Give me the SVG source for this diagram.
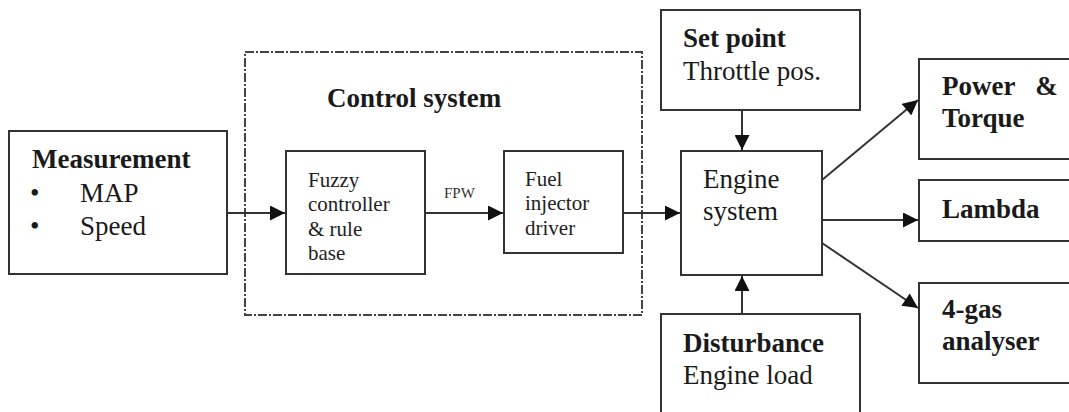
<svg xmlns="http://www.w3.org/2000/svg" width="1069" height="412" viewBox="0 0 1069 412">
<style>
.box{fill:#fff;stroke:#333;stroke-width:2}
.c{stroke:#333;stroke-width:2;fill:none}
</style>
<defs>
<marker id="ah" viewBox="0 0 10 10" refX="10" refY="5" markerWidth="16" markerHeight="15" markerUnits="userSpaceOnUse" orient="auto">
<path d="M0,0 L10,5 L0,10 z" fill="#111"/>
</marker>
</defs>
<rect width="1069" height="412" fill="#fff"/>
<g id="control-system">
<rect x="245" y="52" width="397" height="263" fill="none" stroke="#444" stroke-width="2" stroke-dasharray="9 2 2 2"/>
<text x="327" y="107" font-family="Liberation Serif" font-size="27" font-weight="bold" fill="#1a1a1a">Control system</text>
</g>
<g id="connectors">
<line class="c" x1="227" y1="213" x2="285" y2="213" marker-end="url(#ah)"/>
<line class="c" x1="425" y1="213" x2="503" y2="213" marker-end="url(#ah)"/>
<line class="c" x1="623" y1="213" x2="680" y2="213" marker-end="url(#ah)"/>
<line class="c" x1="742" y1="110" x2="742" y2="150" marker-end="url(#ah)"/>
<line class="c" x1="742" y1="314" x2="742" y2="276" marker-end="url(#ah)"/>
<line class="c" x1="822" y1="180" x2="918" y2="100" marker-end="url(#ah)"/>
<line class="c" x1="822" y1="220" x2="918" y2="220" marker-end="url(#ah)"/>
<line class="c" x1="822" y1="243" x2="918" y2="308" marker-end="url(#ah)"/>
<text x="444" y="198" font-family="Liberation Serif" font-size="15" fill="#333">FPW</text>
</g>
<g id="measurement" fill="#1a1a1a" font-size="27" font-family="Liberation Serif">
<rect class="box" x="9" y="131" width="218" height="143"/>
<text x="32" y="168" font-weight="bold">Measurement</text>
<text x="30" y="202">•</text>
<text x="80" y="202">MAP</text>
<text x="30" y="235">•</text>
<text x="80" y="235">Speed</text>
</g>
<g id="fuzzy" fill="#222" font-size="21" font-family="Liberation Serif">
<rect class="box" x="286" y="151" width="139" height="123"/>
<text x="308" y="187">Fuzzy</text>
<text x="308" y="211">controller</text>
<text x="308" y="236">&amp; rule</text>
<text x="308" y="260">base</text>
</g>
<g id="fuel-injector" fill="#222" font-size="21" font-family="Liberation Serif">
<rect class="box" x="504" y="151" width="119" height="102"/>
<text x="525" y="186">Fuel</text>
<text x="525" y="210">injector</text>
<text x="525" y="235">driver</text>
</g>
<g id="set-point" fill="#1a1a1a" font-size="27" font-family="Liberation Serif">
<rect class="box" x="661" y="10" width="199" height="100"/>
<text x="683" y="47" font-weight="bold">Set point</text>
<text x="683" y="80">Throttle pos.</text>
</g>
<g id="engine" fill="#1a1a1a" font-size="27" font-family="Liberation Serif">
<rect class="box" x="681" y="151" width="141" height="124"/>
<text x="703" y="188">Engine</text>
<text x="703" y="220">system</text>
</g>
<g id="disturbance" fill="#1a1a1a" font-size="27" font-family="Liberation Serif">
<rect class="box" x="661" y="314" width="199" height="110"/>
<text x="683" y="352" font-weight="bold">Disturbance</text>
<text x="683" y="384">Engine load</text>
</g>
<g id="power-torque" fill="#1a1a1a" font-size="27" font-weight="bold" font-family="Liberation Serif">
<rect class="box" x="919" y="59" width="160" height="100"/>
<text x="942" y="95" xml:space="preserve">Power   &amp;</text>
<text x="942" y="127">Torque</text>
</g>
<g id="lambda" fill="#1a1a1a" font-size="27" font-weight="bold" font-family="Liberation Serif">
<rect class="box" x="919" y="180" width="160" height="61"/>
<text x="942" y="218">Lambda</text>
</g>
<g id="gas-analyser" fill="#1a1a1a" font-size="27" font-weight="bold" font-family="Liberation Serif">
<rect class="box" x="919" y="283" width="160" height="100"/>
<text x="942" y="318">4-gas</text>
<text x="942" y="350">analyser</text>
</g>
</svg>
